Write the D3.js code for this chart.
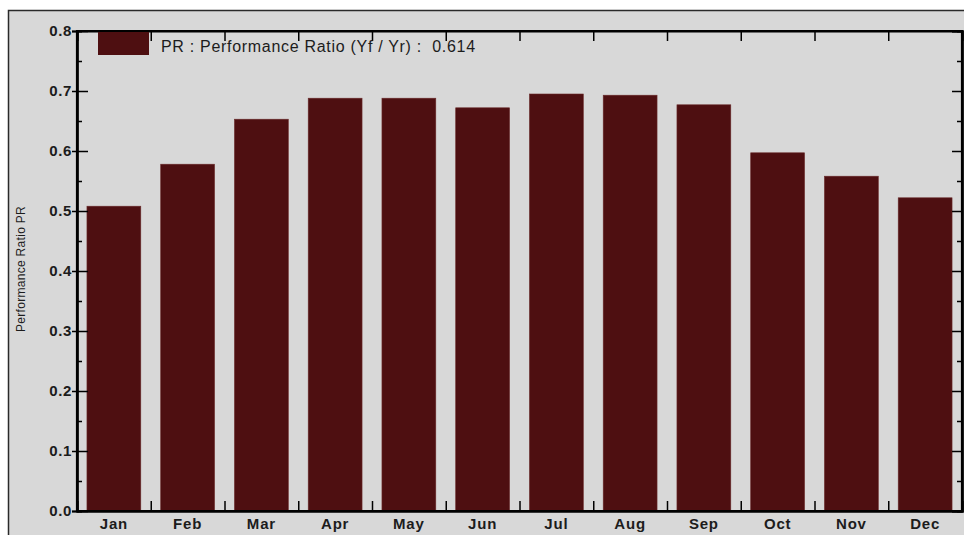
<!DOCTYPE html>
<html>
<head>
<meta charset="utf-8">
<script src="https://cdn.jsdelivr.net/npm/d3@7"></script>
<style>
  body { margin: 0; background: #fff; }
  svg { display: block; font-family: "Liberation Sans", Arial, sans-serif; }
</style>
</head>
<body>
<script>
"use strict";

// monthly performance ratio
const months = ["Jan","Feb","Mar","Apr","May","Jun","Jul","Aug","Sep","Oct","Nov","Dec"];
const prValues = [0.508, 0.578, 0.653, 0.688, 0.688, 0.672, 0.695, 0.693, 0.677, 0.597, 0.558, 0.522];
const yTicks = [0.0, 0.1, 0.2, 0.3, 0.4, 0.5, 0.6, 0.7, 0.8];
const yMinorTicks = [0.05, 0.15, 0.25, 0.35, 0.45, 0.55, 0.65, 0.75];
const legendLabel = "PR : Performance Ratio (Yf / Yr) :  0.614";
const yTitle = "Performance Ratio PR";

const w = 964, h = 535;
const plotLeft = 77, plotRight = 962, plotTop = 31, plotBottom = 511;
const barColor = "#4e0f11";

const svg = d3.select("body").append("svg")
  .attr("width", w)
  .attr("height", h);

// grey panel
svg.append("rect")
  .attr("x", 8.5).attr("y", 10.5)
  .attr("width", w).attr("height", h)
  .attr("fill", "#d8d8d8")
  .attr("stroke", "#2a2a2a")
  .attr("stroke-width", 1.5);

const x = d3.scaleBand()
  .domain(months)
  .range([plotLeft, plotRight])
  .paddingInner(0.27)
  .paddingOuter(0.135);

// edges between months, for the boundary ticks
const xEdge = d3.scaleLinear().domain([0, 12]).range([plotLeft, plotRight]);

const y = d3.scaleLinear()
  .domain([0, 0.8])
  .range([plotBottom, plotTop]);

svg.selectAll("rect.bar")
  .data(prValues)
  .enter()
  .append("rect")
  .attr("class", "bar")
  .attr("x", (d, i) => x(months[i]))
  .attr("y", d => y(d))
  .attr("width", x.bandwidth())
  .attr("height", d => y(0) - y(d))
  .attr("fill", barColor)
  .attr("stroke", "#6a2a2a")
  .attr("stroke-width", 0.6);

// left axis, major ticks cross the line
const yAxis = svg.append("g")
  .attr("transform", "translate(" + plotLeft + ",0)")
  .call(d3.axisLeft(y).tickValues(yTicks).tickFormat(d3.format(".1f")).tickSize(5).tickPadding(0));
yAxis.selectAll(".tick line").attr("x2", -5).attr("x1", 11).attr("stroke-width", 1.5);
yAxis.selectAll(".tick text")
  .attr("font-size", 15).attr("font-weight", "bold").attr("fill", "#1c1c1c")
  .attr("letter-spacing", 0.6)
  .attr("font-family", "'Liberation Sans', Arial, sans-serif");

svg.append("g")
  .attr("transform", "translate(" + plotLeft + ",0)")
  .call(d3.axisLeft(y).tickValues(yMinorTicks).tickFormat("").tickSize(-5))
  .selectAll(".tick line").attr("stroke-width", 1.5);

// right axis, ticks inward
svg.append("g")
  .attr("transform", "translate(" + plotRight + ",0)")
  .call(d3.axisRight(y).tickValues(yTicks).tickFormat("").tickSize(-10))
  .selectAll(".tick line").attr("stroke-width", 1.5);
svg.append("g")
  .attr("transform", "translate(" + plotRight + ",0)")
  .call(d3.axisRight(y).tickValues(yMinorTicks).tickFormat("").tickSize(-5))
  .selectAll(".tick line").attr("stroke-width", 1.5);

// bottom axis: month labels + boundary ticks
const xAxis = svg.append("g")
  .attr("transform", "translate(0," + plotBottom + ")")
  .call(d3.axisBottom(x).tickSize(0).tickPadding(7));
xAxis.selectAll(".tick text")
  .attr("font-size", 15).attr("font-weight", "bold").attr("fill", "#1c1c1c")
  .attr("letter-spacing", 0.8)
  .attr("font-family", "'Liberation Sans', Arial, sans-serif");

svg.append("g")
  .attr("transform", "translate(0," + plotBottom + ")")
  .call(d3.axisBottom(xEdge).tickValues(d3.range(1, 12)).tickFormat("").tickSize(-10))
  .selectAll(".tick line").attr("stroke-width", 1.5);

svg.append("g")
  .attr("transform", "translate(0," + plotTop + ")")
  .call(d3.axisTop(xEdge).tickValues(d3.range(1, 12)).tickFormat("").tickSize(-10))
  .selectAll(".tick line").attr("stroke-width", 1.5);

svg.selectAll(".domain").attr("stroke", "#000").attr("stroke-width", 2.2);

// frame lines
svg.append("path")
  .attr("d", "M" + plotLeft + "," + plotTop + "H" + plotRight + "V" + plotBottom + "H" + plotLeft + "Z")
  .attr("fill", "none")
  .attr("stroke", "#000")
  .attr("stroke-width", 2.2);

// legend
svg.append("rect")
  .attr("x", 98).attr("y", 32)
  .attr("width", 51).attr("height", 23)
  .attr("fill", barColor);
svg.append("text")
  .attr("x", 161).attr("y", 52)
  .attr("font-size", 16)
  .attr("letter-spacing", 0.7)
  .attr("fill", "#1c1c1c")
  .style("white-space", "pre")
  .text(legendLabel);

// y title
svg.append("text")
  .attr("transform", "translate(25,269) rotate(-90)")
  .attr("text-anchor", "middle")
  .attr("font-size", 12)
  .attr("letter-spacing", 0.3)
  .attr("fill", "#1c1c1c")
  .text(yTitle);
</script>
</body>
</html>
